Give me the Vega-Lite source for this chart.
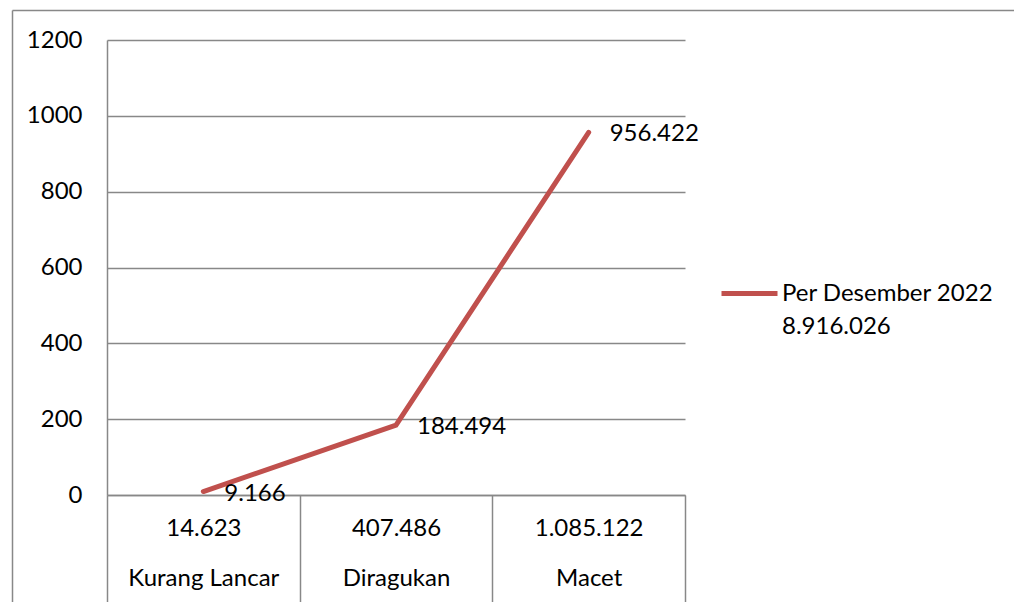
{
  "$schema": "https://vega.github.io/schema/vega-lite/v6.json",
  "autosize": {"type": "none"},
  "padding": {"left": 107, "top": 40, "right": 329, "bottom": 107},
  "width": 578,
  "height": 455,
  "background": "white",
  "config": {
    "view": {"stroke": null},
    "font": "Lato",
    "axis": {"labelFont": "Lato", "labelFontSize": 24, "labelColor": "#000000", "domainColor": "#888888", "gridColor": "#888888", "tickColor": "#888888", "domainWidth": 1.5, "gridWidth": 1.5, "tickWidth": 1.5},
    "legend": {"labelFont": "Lato", "labelFontSize": 24, "labelColor": "#000000"}
  },
  "data": {
    "values": [
      {"cat": "14.623|Kurang Lancar", "v": 9.166, "label": "9.166", "series": "Per Desember 2022|8.916.026"},
      {"cat": "407.486|Diragukan", "v": 184.494, "label": "184.494", "series": "Per Desember 2022|8.916.026"},
      {"cat": "1.085.122|Macet", "v": 956.422, "label": "956.422", "series": "Per Desember 2022|8.916.026"}
    ]
  },
  "resolve": {"scale": {"x": "independent", "y": "independent"}, "axis": {"x": "independent", "y": "independent"}},
  "layer": [
    {
      "encoding": {
        "x": {
          "field": "cat", "type": "nominal", "sort": null,
          "scale": {"paddingInner": 0, "paddingOuter": 0},
          "axis": {
            "title": null, "labelAngle": 0,
            "labelExpr": "isValid(datum.value) ? split(datum.value, '|') : ''",
            "labelLineHeight": 50, "labelPadding": -86, "tickBand": "extent", "tickSize": 107,
            "domain": true, "grid": false, "labelBaseline": "top", "orient": "bottom"
          }
        },
        "y": {
          "field": "v", "type": "quantitative",
          "scale": {"domain": [0, 1200], "nice": false},
          "axis": {"title": null, "values": [0, 200, 400, 600, 800, 1000, 1200], "format": "d", "ticks": false, "tickSize": 0, "labelPadding": 25, "grid": true, "domain": true, "orient": "left"}
        }
      },
      "layer": [
        {
          "mark": {"type": "line", "strokeWidth": 5, "strokeCap": "round"},
          "encoding": {
            "color": {
              "field": "series", "type": "nominal",
              "scale": {"range": ["#C0504D"]},
              "legend": {
                "title": null, "orient": "none", "legendX": 612, "legendY": 223,
                "labelExpr": "split(datum.label, '|')", "labelLimit": 400,
                "symbolType": "stroke", "symbolSize": 3136, "symbolStrokeWidth": 5,
                "labelOffset": 2, "labelBaseline": "middle",
                "encode": {"labels": {"update": {"lineHeight": {"value": 33}}}}
              }
            }
          }
        },
        {
          "mark": {"type": "text", "align": "left", "baseline": "middle", "dx": 21, "dy": 2, "fontSize": 24, "font": "Lato", "color": "#000000"},
          "encoding": {"text": {"field": "label"}}
        }
      ]
    },
    {
      "mark": {"type": "point", "opacity": 0},
      "encoding": {
        "x": {
          "field": "v", "type": "quantitative",
          "scale": {"domain": [0, 1], "range": [-95, 920], "nice": false, "zero": false},
          "axis": {"orient": "top", "offset": 30, "title": null, "labels": false, "ticks": false, "grid": false, "domain": true}
        },
        "y": {
          "field": "v", "type": "quantitative",
          "scale": {"domain": [0, 1], "range": [580, -30], "nice": false, "zero": false},
          "axis": {"orient": "left", "offset": 95, "title": null, "labels": false, "ticks": false, "grid": false, "domain": true}
        }
      }
    }
  ]
}
